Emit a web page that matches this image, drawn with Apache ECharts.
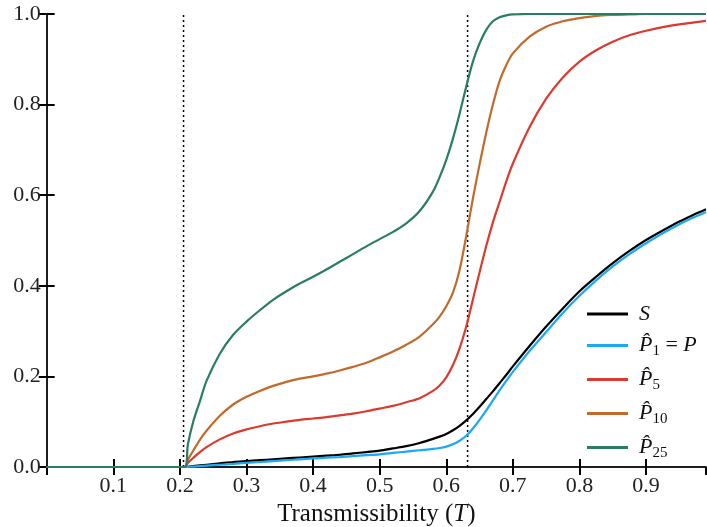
<!DOCTYPE html>
<html>
<head>
<meta charset="utf-8">
<script src="https://cdn.jsdelivr.net/npm/echarts@6/dist/echarts.min.js"></script>
<style>html,body{margin:0;padding:0;background:#fff;}#c{width:707px;height:527px;}</style>
</head>
<body>
<div id="c"></div>
<script>
const xs  = [0, 0.207, 0.212, 0.22, 0.23, 0.24, 0.26, 0.28, 0.30, 0.32, 0.34, 0.36, 0.38, 0.40, 0.42, 0.44, 0.46, 0.48, 0.50, 0.52, 0.54, 0.56, 0.58, 0.59, 0.60, 0.61, 0.62, 0.63, 0.64, 0.65, 0.66, 0.67, 0.68, 0.69, 0.70, 0.725, 0.75, 0.775, 0.80, 0.825, 0.85, 0.875, 0.90, 0.925, 0.95, 0.97, 0.99];
const S   = [0, 0, 0.0005, 0.002, 0.0035, 0.005, 0.008, 0.011, 0.013, 0.015, 0.017, 0.019, 0.021, 0.023, 0.025, 0.027, 0.030, 0.033, 0.036, 0.041, 0.046, 0.053, 0.062, 0.067, 0.073, 0.081, 0.091, 0.103, 0.117, 0.133, 0.150, 0.167, 0.185, 0.203, 0.222, 0.267, 0.310, 0.350, 0.388, 0.420, 0.450, 0.477, 0.501, 0.522, 0.542, 0.556, 0.569];
const P1  = [0, 0, 0.0003, 0.001, 0.002, 0.003, 0.005, 0.007, 0.009, 0.011, 0.013, 0.015, 0.017, 0.019, 0.0205, 0.022, 0.024, 0.026, 0.028, 0.031, 0.034, 0.037, 0.040, 0.042, 0.045, 0.050, 0.058, 0.069, 0.085, 0.104, 0.125, 0.147, 0.169, 0.190, 0.210, 0.256, 0.298, 0.340, 0.378, 0.412, 0.443, 0.470, 0.494, 0.516, 0.536, 0.550, 0.563];
const P5  = [0, 0, 0.009, 0.020, 0.033, 0.044, 0.061, 0.074, 0.083, 0.090, 0.096, 0.100, 0.104, 0.107, 0.110, 0.114, 0.118, 0.123, 0.129, 0.135, 0.143, 0.152, 0.168, 0.180, 0.198, 0.225, 0.262, 0.310, 0.370, 0.430, 0.488, 0.540, 0.585, 0.630, 0.670, 0.750, 0.813, 0.860, 0.895, 0.920, 0.939, 0.953, 0.963, 0.971, 0.977, 0.981, 0.985];
const P10 = [0, 0, 0.016, 0.036, 0.060, 0.080, 0.113, 0.138, 0.155, 0.168, 0.179, 0.188, 0.195, 0.200, 0.206, 0.213, 0.221, 0.230, 0.242, 0.255, 0.270, 0.288, 0.315, 0.332, 0.355, 0.385, 0.435, 0.510, 0.593, 0.668, 0.738, 0.800, 0.852, 0.887, 0.913, 0.950, 0.972, 0.984, 0.991, 0.996, 0.998, 0.999, 1, 1, 1, 1, 1];
const P25 = [0, 0, 0.050, 0.100, 0.145, 0.190, 0.250, 0.292, 0.321, 0.346, 0.369, 0.388, 0.405, 0.420, 0.436, 0.453, 0.470, 0.487, 0.503, 0.519, 0.538, 0.565, 0.608, 0.640, 0.678, 0.725, 0.780, 0.840, 0.895, 0.935, 0.965, 0.984, 0.993, 0.997, 0.999, 1, 1, 1, 1, 1, 1, 1, 1, 1, 1, 1, 1];
const thresholds = [0.2055, 0.632];
const seriesNames = ['S', 'P1', 'P5', 'P10', 'P25'];
const legendLabels = {
  S: '{it|S}',
  P1: '{it|P\u0302}{sub|1}{rm| = }{it|P}',
  P5: '{it|P\u0302}{sub|5}',
  P10: '{it|P\u0302}{sub|10}',
  P25: '{it|P\u0302}{sub|25}'
};
const seriesValues = [S, P1, P5, P10, P25];
const colors = ['#000000', '#1aa9f2', '#dc3a2f', '#c2692c', '#2a7d60'];

const FONT = 'Liberation Serif';
const chart = echarts.init(document.getElementById('c'), null, {renderer: 'canvas'});

function pairs(ys) { return xs.map((x, i) => [x, ys[i]]); }

const axisLine = {show: true, lineStyle: {color: '#111', width: 1.5}};
const tickStyle = {show: true, inside: true, length: 8, lineStyle: {color: '#000', width: 2}};

const series = thresholds.map((t, k) => ({
  name: 'threshold' + k,
  type: 'line',
  data: [[t, 0], [t, 1]],
  showSymbol: false,
  symbol: 'none',
  silent: true,
  lineStyle: {color: '#000', width: 1.5, type: [2, 3]},
  z: 2
})).concat(seriesNames.map((n, i) => ({
  name: n,
  type: 'line',
  data: pairs(seriesValues[i]),
  showSymbol: false,
  symbol: 'none',
  smooth: 0.3,
  lineStyle: {color: colors[i], width: 2.2},
  itemStyle: {color: colors[i]},
  z: 3 + i
})));

chart.setOption({
  animation: false,
  backgroundColor: '#fff',
  grid: {left: 46.7, right: 1, top: 14, bottom: 60, containLabel: false, outerBoundsMode: 'none'},
  xAxis: [{
    type: 'value', min: 0, max: 0.99, interval: 0.1, position: 'bottom',
    axisLine: axisLine, axisTick: tickStyle, splitLine: {show: false},
    axisLabel: {fontFamily: FONT, fontSize: 22, color: '#222', margin: 8, showMinLabel: false, showMaxLabel: false,
      formatter: v => v.toFixed(1)},
    name: '{rm|Transmissibility (}{it|T}{rm|)}',
    nameLocation: 'middle', nameGap: 32,
    nameTextStyle: {rich: {
      rm: {fontFamily: FONT, fontSize: 25, color: '#111'},
      it: {fontFamily: FONT, fontSize: 25, fontStyle: 'italic', color: '#111'}
    }}
  }, {
    type: 'value', min: 0, max: 0.99, interval: 0.1, position: 'top',
    axisLine: axisLine, axisTick: tickStyle, splitLine: {show: false}, axisLabel: {show: false}
  }],
  yAxis: [{
    type: 'value', min: 0, max: 1, interval: 0.2, position: 'left',
    axisLine: axisLine, axisTick: tickStyle, splitLine: {show: false},
    axisLabel: {fontFamily: FONT, fontSize: 22, color: '#222', margin: 6, formatter: v => v.toFixed(1)}
  }, {
    type: 'value', min: 0, max: 1, interval: 0.2, position: 'right',
    axisLine: axisLine, axisTick: tickStyle, splitLine: {show: false}, axisLabel: {show: false}
  }],
  legend: {
    orient: 'vertical', left: 582, top: 298,
    icon: 'rect', itemWidth: 41, itemHeight: 3, itemGap: 7,
    data: seriesNames,
    formatter: n => legendLabels[n],
    textStyle: {
      padding: [0, 0, 0, 6],
      rich: {
        it: {fontFamily: FONT, fontSize: 22, fontStyle: 'italic', color: '#111', lineHeight: 24},
        rm: {fontFamily: FONT, fontSize: 22, color: '#111', lineHeight: 24},
        sub: {fontFamily: FONT, fontSize: 15, color: '#111', lineHeight: 24, padding: [12, 0, 0, 0]}
      }
    }
  },
  series: series
});
</script>
</body>
</html>
